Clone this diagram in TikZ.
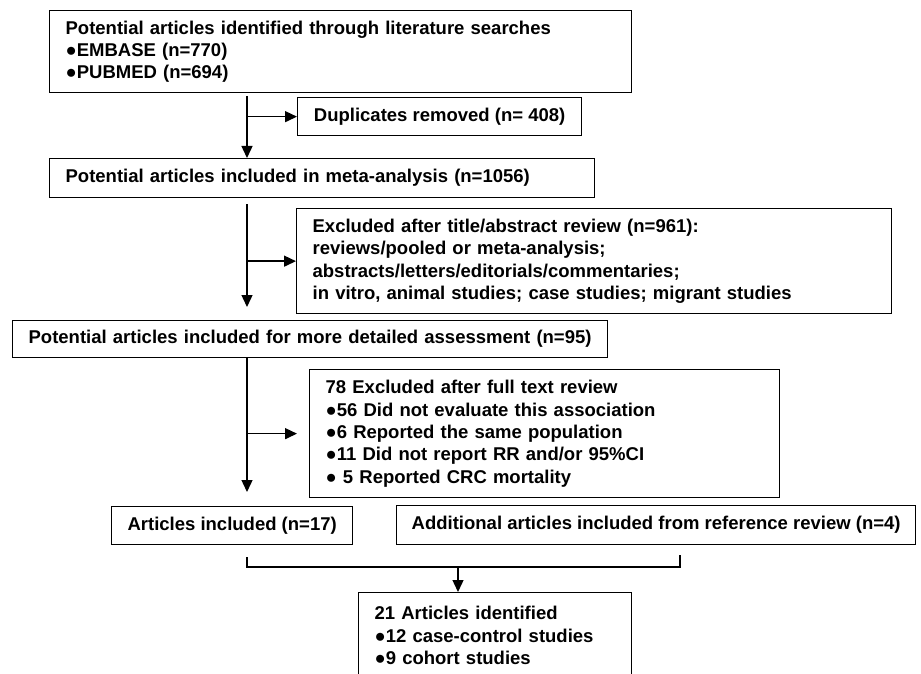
\documentclass[tikz,border=0pt]{standalone}
\usepackage{fontspec}
\setmainfont{Liberation Sans}
\usetikzlibrary{arrows.meta,calc}
\tikzset{
  box/.style={draw=black, line width=1.3pt, anchor=north west, inner ysep=0pt, inner xsep=16pt,
    font=\fontsize{18.5}{22.3}\selectfont\bfseries, text=black},
  lbox/.style={box, align=left},
  cbox/.style={box, inner xsep=0pt},
  conn/.style={line width=1.4pt, draw=black},
  arr/.style={conn, -{Triangle[length=12pt,width=11pt]}},
}
\begin{document}
\begin{tikzpicture}[x=1pt,y=-1pt]
\clip (0,0) rectangle (921,674);
\fill[white] (0,0) rectangle (921,674);

\node[lbox, text width=550pt, minimum height=82pt] (src) at (49,10)
  {Potential articles identified through literature searches\\●EMBASE (n=770)\\●PUBMED (n=694)};
\node[cbox, minimum width=284pt, minimum height=38pt] (dup) at (297,97)
  {Duplicates removed (n= 408)};
\node[lbox, text width=513pt, minimum height=39pt] (meta) at (49,158)
  {Potential articles included in meta-analysis (n=1056)};
\node[lbox, text width=563pt, minimum height=105pt] (excl) at (296,208)
  {Excluded after title/abstract review (n=961):\\reviews/pooled or meta-analysis;\\abstracts/letters/editorials/commentaries;\\in vitro, animal studies; case studies; migrant studies};
\node[lbox, text width=563pt, minimum height=37pt] (det) at (12,320)
  {Potential articles included for more detailed assessment (n=95)};
\node[lbox, text width=438pt, minimum height=128pt] (full) at (309,369)
  {78 Excluded after full text review\\●56 Did not evaluate this association\\●6 Reported the same population\\●11 Did not report RR and/or 95\%CI\\● 5 Reported CRC mortality};
\node[cbox, minimum width=241pt, minimum height=38pt] (incl) at (111,506)
  {Articles included (n=17)};
\node[cbox, minimum width=519pt, minimum height=39pt] (addl) at (396,505)
  {Additional articles included from reference review (n=4)};
\node[lbox, text width=241pt, minimum height=86pt] (final) at (358,592)
  {21 Articles identified\\●12 case-control studies\\●9 cohort studies};

\coordinate (spine) at (247,0);
\coordinate (s1) at (247,96);
\coordinate (s2) at (247,204);
\coordinate (s3) at (247,358);
\coordinate (bl) at (247,557);
\coordinate (br) at (680,555);
\coordinate (bm) at (458,567);

\draw[arr] (s1) -- (spine |- meta.north);
\draw[arr] (spine |- dup.west) -- (dup.west);

\draw[arr, shorten >=13pt] (s2) -- (spine |- det.north);
\draw[arr] (spine |- excl.west) -- (excl.west);

\draw[arr, shorten >=14pt] (s3) -- (spine |- incl.north);
\draw[arr, shorten >=12pt] (spine |- full.west) -- (full.west);

\draw[conn] (bl) -- (bl |- bm);
\draw[conn] (br) -- (br |- bm);
\draw[line width=2.4pt] ($(bl |- bm)+(-0.7,0)$) -- ($(br |- bm)+(0.7,0)$);
\draw[arr] (bm) -- (bm |- final.north);
\end{tikzpicture}
\end{document}
